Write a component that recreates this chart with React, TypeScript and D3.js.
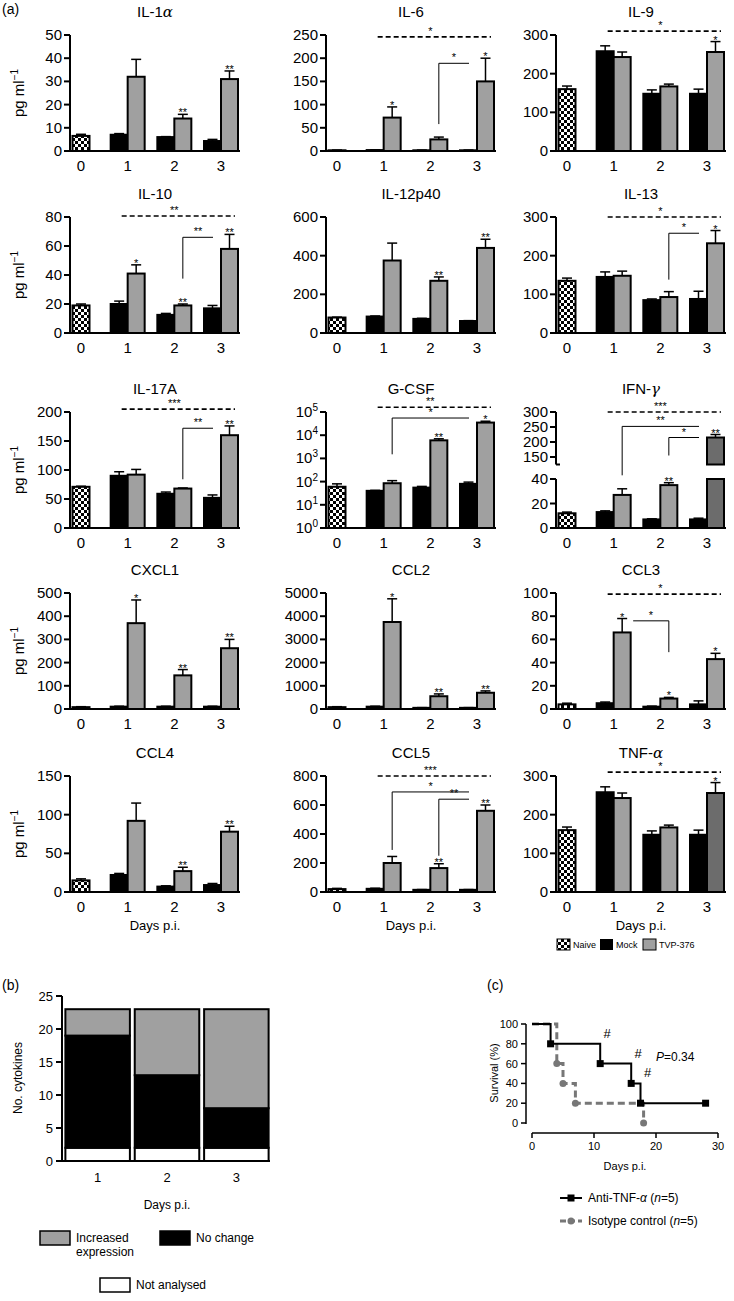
import React from "react";
import * as d3 from "d3";

const FONT = "'Liberation Sans', Arial, Helvetica, sans-serif";

// ---- panel (a) data ----
const cytokines = ["IL-1|α", "IL-6", "IL-9", "IL-10", "IL-12p40", "IL-13", "IL-17A", "G-CSF", "IFN-|γ", "CXCL1", "CCL2", "CCL3", "CCL4", "CCL5", "TNF-|α"];
const yMax = [50, 250, 300, 80, 600, 300, 200, 1e5, 300, 500, 5000, 100, 150, 800, 300];
const yStep = [10, 50, 100, 20, 200, 100, 50, 10, 50, 100, 1000, 20, 50, 200, 100];
const dayLabels = ["0", "1", "2", "3"];

const naive = [6.5, 1.5, 160, 19, 80, 135, 71, 60, 12, 8, 80, 4, 15, 20, 160];
const naiveErr = [7.2, 2, 168, 20, 82, 142, 72, 80, 13, 10, 100, 5, 17, 25, 168];
const mock = [[7, 6, 4.3], [2, 1.5, 1.5], [258, 148, 148], [20, 12.5, 17], [85, 73, 62], [145, 85, 88], [90, 59, 52], [40, 55, 80], [13, 7, 7], [10, 10, 10], [100, 50, 50], [5, 2, 4], [22, 7, 9], [22, 15, 15], [258, 148, 148]];
const mockErr = [[7.5, 6.2, 5], [2.5, 2, 2], [272, 158, 160], [22, 13.5, 19], [88, 76, 64], [158, 88, 108], [97, 62, 57], [42, 62, 95], [14, 7.5, 8], [12, 12, 12], [120, 60, 60], [6, 2.5, 7], [24, 8, 11], [26, 17, 17], [272, 158, 160]];
const tvp = [[32, 14, 31], [72, 25, 150], [243, 167, 256], [41, 19, 58], [375, 270, 440], [148, 93, 232], [92, 68, 160], [85, 6000, 35000], [27, 35, 215], [370, 145, 262], [3750, 550, 700], [66, 9, 43], [92, 27, 78], [200, 165, 560], [243, 167, 256]];
const tvpErr = [[39.5, 15.8, 34.5], [95, 30, 200], [256, 173, 283], [47, 20, 68], [465, 290, 485], [160, 107, 265], [101, 69, 176], [110, 7000, 40000], [32, 37, 225], [470, 170, 300], [4750, 650, 780], [78, 10, 48], [115, 32, 85], [245, 195, 600], [256, 173, 283]];
const tvpStars = [["", "**", "**"], ["*", "", "*"], ["", "", "*"], ["*", "**", "**"], ["", "**", "**"], ["", "", "*"], ["", "", "**"], ["", "**", "*"], ["", "**", "**"], ["*", "**", "**"], ["*", "**", "**"], ["*", "*", "*"], ["", "**", "**"], ["", "**", "**"], ["", "", "*"]];
const tvpDark = [8, 14];

// dashed comparison lines: panel, level (data units), label
const dashedPanel = [1, 2, 3, 5, 6, 7, 8, 11, 13, 14];
const dashedLevel = [246, 310, 80.7, 300, 205, 1.6e5, 300, 99, 800, 310];
const dashedLabel = ["*", "*", "**", "*", "***", "**", "***", "*", "***", "*"];

// solid brackets: panel, start day, top level, lower end, label, side
const bracketPanel = [1, 3, 5, 6, 7, 8, 8, 11, 13, 13];
const bracketDay = [2, 2, 2, 2, 1, 1, 2, 1, 1, 2];
const bracketTop = [189, 66, 258, 172, 55000, 252, 215, 76, 690, 640];
const bracketLow = [58, 37.5, 138, 84, 1500, 43, 155, 49, 290, 250];
const bracketLabel = ["*", "**", "*", "**", "*", "**", "*", "*", "*", "**"];
const bracketSide = ["left", "left", "left", "left", "left", "left", "left", "right", "left", "left"];

// ---- panel (b) data ----
const bDays = ["1", "2", "3"];
const notAnalysed = [2, 2, 2];
const noChange = [17, 11, 6];
const increased = [4, 10, 15];

// ---- panel (c) data ----
const antiDays = [0, 3, 11, 16, 17.5, 28];
const antiSurv = [100, 80, 60, 40, 20, 20];
const isoDays = [0, 4, 5, 7, 18];
const isoSurv = [100, 60, 40, 20, 0];
const hashDays = [11, 16, 17.5];
const hashSurv = [80, 60, 40];

const colAxisX = [70, 326, 556];
const rowTopY = [35, 217, 412, 593, 776];
const plotH = 116;
const plotW = 170;
const barW = 17;
const GREY = "#a0a0a0";
const DARK = "#6c6c6c";

function Title({ text, x, y }: { text: string; x: number; y: number }) {
  const [a, b] = text.split("|");
  return (
    <text x={x} y={y} textAnchor="middle" fontSize={15}>
      {a}
      {b && <tspan fontStyle="italic" fontFamily="'DejaVu Serif', serif">{b}</tspan>}
    </text>
  );
}

function Panel({ i }: { i: number }) {
  const col = i % 3;
  const row = Math.floor(i / 3);
  const x0 = colAxisX[col];
  const top = rowTopY[row];
  const bottom = top + plotH;
  const xDay = d3.scalePoint<string>().domain(dayLabels).range([x0 + 11, x0 + 151]);
  const isLog = i === 7;
  const isBroken = i === 8;

  let y: (v: number) => number;
  let ticks: number[] = [];
  let lower: d3.ScaleLinear<number, number> | null = null;
  let upper: d3.ScaleLinear<number, number> | null = null;
  if (isLog) {
    const s = d3.scaleLog().domain([1, yMax[i]]).range([bottom, top]);
    y = (v) => s(Math.max(v, 1));
    ticks = d3.range(0, 6).map((e) => Math.pow(10, e));
  } else if (isBroken) {
    lower = d3.scaleLinear().domain([0, 40]).range([bottom, bottom - 49]);
    upper = d3.scaleLinear().domain([150, 300]).range([bottom - 71, top]);
    const lo = lower, up = upper;
    y = (v) => (v <= 60 ? lo(v) : up(v));
    ticks = [0, 20, 40, 150, 200, 250, 300];
  } else {
    const s = d3.scaleLinear().domain([0, yMax[i]]).range([bottom, top]);
    y = s;
    ticks = d3.range(0, yMax[i] + yStep[i] / 2, yStep[i]);
  }

  const barRects = (cx: number, v: number, fill: string, key: string) => {
    if (isBroken && v > 40 && lower && upper) {
      return (
        <g key={key}>
          <rect x={cx - barW / 2} y={lower(40)} width={barW} height={lower(0) - lower(40)} fill={fill} stroke="#000" strokeWidth={2} />
          <rect x={cx - barW / 2} y={upper(v)} width={barW} height={upper(125) - upper(v)} fill={fill} stroke="#000" strokeWidth={2} />
        </g>
      );
    }
    return <rect key={key} x={cx - barW / 2} y={y(v)} width={barW} height={y(0) - y(v)} fill={fill} stroke="#000" strokeWidth={2} />;
  };
  const errBar = (cx: number, v: number, e: number, key: string) => (
    <g key={key} stroke="#000" strokeWidth={1.5}>
      <line x1={cx} x2={cx} y1={y(v)} y2={y(e)} />
      <line x1={cx - 5} x2={cx + 5} y1={y(e)} y2={y(e)} />
    </g>
  );

  const marks: React.ReactNode[] = [];
  const c0 = xDay("0")!;
  marks.push(barRects(c0, naive[i], "url(#check)", "n"));
  marks.push(errBar(c0, naive[i], naiveErr[i], "ne"));
  [1, 2, 3].forEach((d, k) => {
    const c = xDay(String(d))!;
    const cm = c - barW / 2;
    const ct = c + barW / 2;
    marks.push(errBar(cm, mock[i][k], mockErr[i][k], `me${k}`));
    marks.push(errBar(ct, tvp[i][k], tvpErr[i][k], `te${k}`));
    marks.push(barRects(cm, mock[i][k], "#000", `m${k}`));
    const fill = tvpDark.includes(i) && d === 3 ? DARK : GREY;
    marks.push(barRects(ct, tvp[i][k], fill, `t${k}`));
    if (tvpStars[i][k]) {
      marks.push(
        <text key={`s${k}`} x={ct} y={y(tvpErr[i][k]) + 2} textAnchor="middle" fontSize={11}>
          {tvpStars[i][k]}
        </text>
      );
    }
  });

  // dashed comparisons
  dashedPanel.forEach((p, k) => {
    if (p !== i) return;
    const yy = y(dashedLevel[k]);
    const xa = xDay("1")! - 6;
    const xb = xDay("3")! + 14;
    marks.push(
      <g key={`d${k}`}>
        <line x1={xa} x2={xb} y1={yy} y2={yy} stroke="#000" strokeWidth={1.6} strokeDasharray="5,3" />
        <text x={xDay("2")!} y={yy - 2} textAnchor="middle" fontSize={11}>{dashedLabel[k]}</text>
      </g>
    );
  });

  // solid brackets
  bracketPanel.forEach((p, k) => {
    if (p !== i) return;
    const yt = y(bracketTop[k]);
    const yl = y(bracketLow[k]);
    const start = xDay(String(bracketDay[k]))! + barW / 2;
    let path: string;
    let xa: number, xb: number;
    if (bracketSide[k] === "left") {
      xa = start;
      xb = xDay("3")! - 8;
      path = `M${xa},${yl}V${yt}H${xb}`;
    } else {
      xa = start + 11;
      xb = xDay(String(bracketDay[k] + 1))! + barW / 2;
      path = `M${xa},${yt}H${xb}V${yl}`;
    }
    marks.push(
      <g key={`b${k}`}>
        <path d={path} fill="none" stroke="#000" strokeWidth={1} />
        <text x={(xa + xb) / 2} y={yt - 2} textAnchor="middle" fontSize={11}>{bracketLabel[k]}</text>
      </g>
    );
  });

  const axis: React.ReactNode[] = [];
  if (isBroken && lower && upper) {
    axis.push(<line key="al" x1={x0} x2={x0} y1={lower(0) + 1} y2={lower(40)} stroke="#000" strokeWidth={2} />);
    axis.push(<line key="au" x1={x0} x2={x0} y1={upper(125)} y2={upper(300)} stroke="#000" strokeWidth={2} />);
    axis.push(<line key="ae" x1={x0} x2={x0 + 4} y1={upper(125)} y2={upper(125)} stroke="#000" strokeWidth={2} />);
  } else {
    axis.push(<line key="ay" x1={x0} x2={x0} y1={bottom + 1} y2={top} stroke="#000" strokeWidth={2} />);
  }
  axis.push(<line key="ax" x1={x0 - 1} x2={x0 + plotW} y1={bottom} y2={bottom} stroke="#000" strokeWidth={2} />);
  ticks.forEach((t) => {
    const ty = y(t);
    axis.push(<line key={`t${t}`} x1={x0 - 6} x2={x0} y1={ty} y2={ty} stroke="#000" strokeWidth={2} />);
    axis.push(
      <text key={`l${t}`} x={x0 - 8} y={ty + 5} textAnchor="end" fontSize={15}>
        {isLog ? (
          <>
            10<tspan dy={-6} fontSize={10}>{Math.round(Math.log10(t))}</tspan>
          </>
        ) : (
          t
        )}
      </text>
    );
  });
  dayLabels.forEach((d) => {
    axis.push(
      <text key={`x${d}`} x={xDay(d)!} y={bottom + 20} textAnchor="middle" fontSize={15}>
        {d}
      </text>
    );
  });

  return (
    <g>
      <Title text={cytokines[i]} x={x0 + 85} y={top - 18} />
      {marks}
      {axis}
      {col === 0 && (
        <text transform={`translate(24,${(top + bottom) / 2}) rotate(-90)`} textAnchor="middle" fontSize={15}>
          pg ml<tspan dy={-6} fontSize={10}>−1</tspan>
        </text>
      )}
      {row === 4 && (
        <text x={x0 + 85} y={bottom + 38} textAnchor="middle" fontSize={13}>
          Days p.i.
        </text>
      )}
    </g>
  );
}

function PanelB() {
  const x = d3.scaleBand<string>().domain(bDays).range([64, 270]).paddingInner(0.07).paddingOuter(0.02);
  const y = d3.scaleLinear().domain([0, 25]).range([1161, 996]);
  const rows = bDays.map((d, k) => ({ day: d, notAnalysed: notAnalysed[k], noChange: noChange[k], increased: increased[k] }));
  const keys = ["notAnalysed", "noChange", "increased"];
  const fills = ["#fff", "#000", GREY];
  const series = d3.stack<any>().keys(keys)(rows);
  return (
    <g>
      <text x={2} y={990} fontSize={14}>(b)</text>
      {series.map((s, si) =>
        s.map((seg, k) => (
          <rect key={`${si}-${k}`} x={x(bDays[k])!} y={y(seg[1])} width={x.bandwidth()} height={y(seg[0]) - y(seg[1])} fill={fills[si]} stroke="#000" strokeWidth={2} />
        ))
      )}
      <line x1={62} x2={62} y1={996} y2={1162} stroke="#000" strokeWidth={2} />
      <line x1={61} x2={270} y1={1161} y2={1161} stroke="#000" strokeWidth={2} />
      {y.ticks(5).map((t) => (
        <g key={t}>
          <line x1={56} x2={62} y1={y(t)} y2={y(t)} stroke="#000" strokeWidth={2} />
          <text x={53} y={y(t) + 4.5} textAnchor="end" fontSize={13}>{t}</text>
        </g>
      ))}
      {bDays.map((d) => (
        <text key={d} x={x(d)! + x.bandwidth() / 2} y={1182} textAnchor="middle" fontSize={13}>{d}</text>
      ))}
      <text x={167} y={1209} textAnchor="middle" fontSize={12}>Days p.i.</text>
      <text transform="translate(22,1078) rotate(-90)" textAnchor="middle" fontSize={12}>No. cytokines</text>
      <rect x={40} y={1231} width={30} height={14} fill={GREY} stroke="#000" strokeWidth={1.5} />
      <text x={76} y={1242} fontSize={12}>Increased</text>
      <text x={76} y={1256} fontSize={12}>expression</text>
      <rect x={160} y={1231} width={30} height={14} fill="#000" stroke="#000" strokeWidth={1.5} />
      <text x={196} y={1242} fontSize={12}>No change</text>
      <rect x={100} y={1278} width={30} height={14} fill="#fff" stroke="#000" strokeWidth={1.5} />
      <text x={136} y={1289} fontSize={12}>Not analysed</text>
    </g>
  );
}

function PanelC() {
  const x = d3.scaleLinear().domain([0, 30]).range([532, 718]);
  const y = d3.scaleLinear().domain([0, 100]).range([1123, 1024]);
  const line = d3.line<[number, number]>().x((d) => x(d[0])).y((d) => y(d[1])).curve(d3.curveStepAfter);
  const anti = antiDays.map((d, k) => [d, antiSurv[k]] as [number, number]);
  const iso = isoDays.map((d, k) => [d, isoSurv[k]] as [number, number]);
  return (
    <g>
      <text x={487} y={990} fontSize={14}>(c)</text>
      <path d={line(iso)!} fill="none" stroke="#777" strokeWidth={3} strokeDasharray="7,4" />
      {iso.slice(1).map((d, k) => (
        <circle key={k} cx={x(d[0])} cy={y(d[1])} r={3.5} fill="#777" />
      ))}
      <path d={line(anti)!} fill="none" stroke="#000" strokeWidth={2} />
      {anti.slice(1).map((d, k) => (
        <rect key={k} x={x(d[0]) - 3.5} y={y(d[1]) - 3.5} width={7} height={7} fill="#000" />
      ))}
      {hashDays.map((d, k) => (
        <text key={k} x={x(d) + 7} y={y(hashSurv[k]) - 6} textAnchor="middle" fontSize={13}>#</text>
      ))}
      <line x1={526} x2={526} y1={1024} y2={1124} stroke="#000" strokeWidth={1.5} />
      {y.ticks(5).map((t) => (
        <g key={t}>
          <line x1={521} x2={526} y1={y(t)} y2={y(t)} stroke="#000" strokeWidth={1.5} />
          <text x={518} y={y(t) + 4} textAnchor="end" fontSize={11}>{t}</text>
        </g>
      ))}
      <line x1={x(0)} x2={x(30)} y1={1133} y2={1133} stroke="#000" strokeWidth={1.5} />
      {x.ticks(3).map((t) => (
        <g key={t}>
          <line x1={x(t)} x2={x(t)} y1={1133} y2={1138} stroke="#000" strokeWidth={1.5} />
          <text x={x(t)} y={1150} textAnchor="middle" fontSize={11}>{t}</text>
        </g>
      ))}
      <text x={x(15)} y={1170} textAnchor="middle" fontSize={11}>Days p.i.</text>
      <text transform="translate(498,1073) rotate(-90)" textAnchor="middle" fontSize={11}>Survival (%)</text>
      <text x={656} y={1061} fontSize={12}>
        <tspan fontStyle="italic">P</tspan>=0.34
      </text>
      <line x1={560} x2={582} y1={1198} y2={1198} stroke="#000" strokeWidth={2} />
      <rect x={567.5} y={1194.5} width={7} height={7} fill="#000" />
      <text x={588} y={1202} fontSize={12}>
        Anti-TNF-<tspan fontStyle="italic">α</tspan> (<tspan fontStyle="italic">n</tspan>=5)
      </text>
      <line x1={560} x2={582} y1={1221} y2={1221} stroke="#777" strokeWidth={3} strokeDasharray="6,3" />
      <circle cx={571} cy={1221} r={3.5} fill="#777" />
      <text x={588} y={1225} fontSize={12}>
        Isotype control (<tspan fontStyle="italic">n</tspan>=5)
      </text>
    </g>
  );
}

export default function App() {
  return (
    <svg width={734} height={1301} style={{ position: "absolute", left: 0, top: 0, background: "#fff" }} fontFamily={FONT}>
      <defs>
        <pattern id="check" width={6} height={6} patternUnits="userSpaceOnUse">
          <rect width={6} height={6} fill="#fff" />
          <rect width={3} height={3} fill="#000" />
          <rect x={3} y={3} width={3} height={3} fill="#000" />
        </pattern>
      </defs>
      <rect width={734} height={1301} fill="#fff" />
      <text x={2} y={14} fontSize={14}>(a)</text>
      {cytokines.map((_, i) => (
        <Panel key={i} i={i} />
      ))}
      <rect x={557} y={939} width={13} height={11} fill="url(#check)" stroke="#000" strokeWidth={1} />
      <text x={573} y={948} fontSize={9}>Naive</text>
      <rect x={600} y={939} width={13} height={11} fill="#000" />
      <text x={616} y={948} fontSize={9}>Mock</text>
      <rect x={643} y={939} width={13} height={11} fill={GREY} stroke="#000" strokeWidth={1} />
      <text x={659} y={948} fontSize={9}>TVP-376</text>
      <PanelB />
      <PanelC />
    </svg>
  );
}
